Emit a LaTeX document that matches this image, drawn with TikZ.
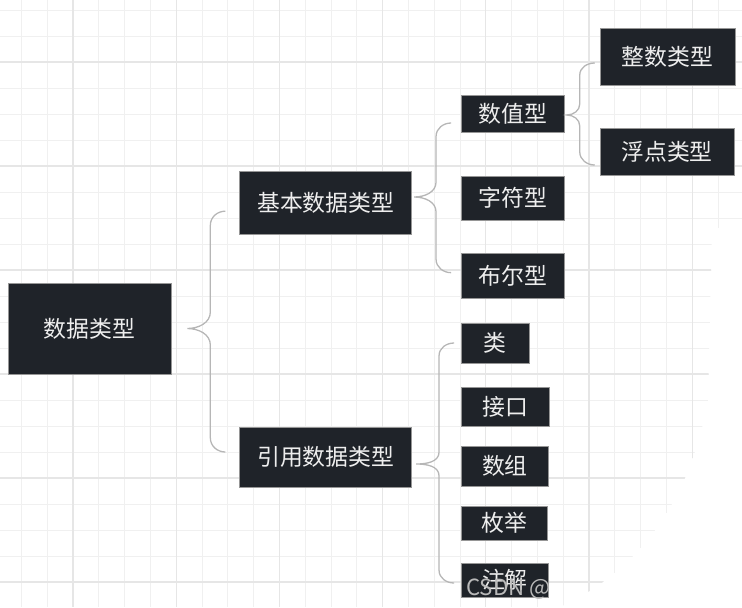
\documentclass[tikz,border=0pt]{standalone}
\usepackage{fontspec}
\newfontfamily\cjk{Noto Sans CJK SC}
\usepackage{tikz}
\usetikzlibrary{positioning, calc}
\definecolor{boxdark}{RGB}{31,35,41}
\definecolor{boxedge}{RGB}{150,150,150}
\definecolor{boxtext}{RGB}{238,238,238}
\definecolor{bracegray}{RGB}{182,182,182}
\definecolor{gridminor}{RGB}{240,240,240}
\definecolor{gridmajor}{RGB}{230,230,230}
\definecolor{markgray}{RGB}{185,185,185}
\tikzset{
  conn/.style={draw=bracegray, line width=1.1pt},
  gridline/.style={draw=gridminor, line width=0.8pt},
  gridbold/.style={draw=gridmajor, line width=0.9pt},
  tbox/.style={draw=boxedge, fill=boxdark, rectangle, line width=0.6pt, text=boxtext, inner sep=0pt, font=\cjk\fontsize{19.5}{21}\selectfont}
}

\begin{document}
\begin{tikzpicture}[leaf/.style={tbox, minimum width=2.61cm}]
  \useasboundingbox (0,0) rectangle (22.26,-18.21);
  \begin{scope}
    \clip (0,0) -- (22.26,0) -- (22.26,-6.6) -- (21.36,-6.9) -- (21.24,-12.0) .. controls (20.7,-15.0) and (19.2,-17.1) .. (16.8,-18.21) -- (0,-18.21) -- cycle;
    \foreach \i in {-3,...,26} \draw [gridline] ({2.19+0.774*\i},0) -- ++(0,-18.21);
    \foreach \j in {-2,...,21} \draw [gridline] (0,{-1.86-0.78*\j}) -- ++(22.26,0);
    \foreach \i in {-1,...,6} \draw [gridbold] ({2.19+3.096*\i},0) -- ++(0,-18.21);
    \foreach \j in {0,...,5} \draw [gridbold] (0,{-1.86-3.12*\j}) -- ++(22.26,0);
  \end{scope}

  \node [tbox, minimum width=4.89cm, minimum height=2.73cm] (root) at (2.685,-9.855) {数据类型};
  \node [tbox, minimum width=5.16cm, minimum height=1.89cm, right=2.04cm of root, yshift=3.78cm] (basic) {基本数据类型};
  \node [tbox, minimum width=5.16cm, minimum height=1.8cm, right=2.04cm of root, yshift=-3.855cm] (ref) {引用数据类型};
  \node [tbox, minimum width=3.09cm, minimum height=1.11cm, right=1.47cm of basic, yshift=2.67cm] (num) {数值型};
  \node [tbox, minimum width=3.09cm, minimum height=1.32cm, right=1.47cm of basic, yshift=0.135cm] (chr) {字符型};
  \node [tbox, minimum width=3.09cm, minimum height=1.35cm, right=1.47cm of basic, yshift=-2.19cm] (bool) {布尔型};
  \node [tbox, minimum width=4.05cm, minimum height=1.71cm, right=1.05cm of num, yshift=1.71cm] (int) {整数类型};
  \node [tbox, minimum width=4.02cm, minimum height=1.41cm, right=1.05cm of num, yshift=-1.14cm] (flt) {浮点类型};
  \node [leaf, minimum width=2.04cm, minimum height=1.2cm, right=1.47cm of ref, yshift=3.42cm] (cls) {类};
  \node [leaf, minimum width=2.64cm, minimum height=1.17cm, right=1.47cm of ref, yshift=1.515cm] (ifc) {接口};
  \node [leaf, minimum height=1.2cm, right=1.47cm of ref, yshift=-0.27cm] (arr) {数组};
  \node [leaf, minimum width=2.58cm, minimum height=1.02cm, right=1.47cm of ref, yshift=-1.98cm] (enm) {枚举};
  \node [leaf, minimum height=1.02cm, right=1.47cm of ref, yshift=-3.69cm] (ann) {注解};

  \draw [conn] ($(basic.west)+(-0.42,-0.26)$) to[out=180,in=90] ($(basic.west)+(-0.87,-0.68)$) -- ($(root.east)+(1.17,0.5)$) to[out=-90,in=0] ($(root.east)+(0.48,0)$) to[out=0,in=90] ($(root.east)+(1.17,-0.5)$) -- ($(ref.west)+(-0.87,0.57)$) to[out=-90,in=180] ($(ref.west)+(-0.42,0.15)$);
  \draw [conn] ($(num.west)+(-0.3,-0.285)$) to[out=180,in=90] ($(num.west)+(-0.75,-0.685)$) -- ($(basic.east)+(0.72,0.615)$) to[out=-90,in=0] ($(basic.east)+(0.06,0.165)$) to[out=0,in=90] ($(basic.east)+(0.72,-0.285)$) -- ($(bool.west)+(-0.75,0.485)$) to[out=-90,in=180] ($(bool.west)+(-0.3,0.085)$);
  \draw [conn] ($(int.west)+(-0.15,-0.195)$) to[out=180,in=90] ($(int.west)+(-0.6,-0.555)$) -- ($(num.east)+(0.45,0.285)$) to[out=-90,in=0] ($(num.east)+(0.06,-0.045)$) to[out=0,in=90] ($(num.east)+(0.45,-0.375)$) -- ($(flt.west)+(-0.6,-0.015)$) to[out=-90,in=180] ($(flt.west)+(-0.15,-0.405)$);
  \draw [conn] ($(cls.west)+(-0.21,0)$) to[out=180,in=90] ($(cls.west)+(-0.66,-0.38)$) -- ($(ref.east)+(0.81,0.15)$) to[out=-90,in=0] ($(ref.east)+(0.12,-0.21)$) to[out=0,in=90] ($(ref.east)+(0.81,-0.57)$) -- ($(ann.west)+(-0.66,0.29)$) to[out=-90,in=180] ($(ann.west)+(-0.21,-0.09)$);

  \node [text=markgray, font=\cjk\fontsize{19}{21}\selectfont, anchor=base west] (mark) at (13.86,-17.85) {CSDN @};
\end{tikzpicture}
\end{document}
